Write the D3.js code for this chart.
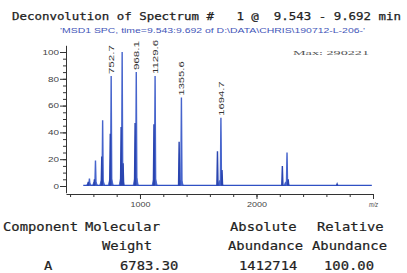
<!DOCTYPE html>
<html lang="en">
<head>
<meta charset="UTF-8">
<title>Deconvolution</title>
<script src="https://d3js.org/d3.v7.min.js"></script>
<style>
  body { margin: 0; background: #fff; }
  svg { display: block; }
</style>
</head>
<body>
<svg width="407" height="273"></svg>
<script>
// main charge-state peaks (m/z, relative %)
const mainMz = [566, 618, 679.5, 752.7, 847, 968.1, 1129.6, 1355.6, 1694.7, 2262];
const mainHt = [5.5, 19, 49, 82, 100, 85, 82, 66, 51, 25];
// labels shown above some peaks
const labelMz = [752.7, 968.1, 1129.6, 1355.6, 1694.7];
const labelHt = [82, 85, 82, 66, 51];
const labelTxt = ["752.7", "968.1", "1129.6", "1355.6", "1694.7"];
// side peaks and shoulders
const sideMz = [556, 609, 672, 745, 838, 958, 1120, 1336, 1665, 2222, 855, 1704, 2272, 2692];
const sideHt = [3, 5, 22, 39, 44, 47, 46, 33, 26, 15, 17, 12, 5, 1.5];
// low humps at the foot of each cluster
const humpMz = [562, 614, 676, 749, 843, 964, 1126, 1350, 1690, 2258];
const humpHt = [2, 3, 4, 5, 6, 6, 5, 4, 4, 3];
// baseline extent
const baseMz = [513, 2990];
const baseLevel = 0.4;

const yTicks = [0, 20, 40, 60, 80, 100];
const xTicks = [1000, 2000, 3000];
const xTickLabels = ["1000", "2000", "m/z"];

const title = "Deconvolution of Spectrum #   1 @  9.543 - 9.692 min";
const subtitle = "'MSD1 SPC, time=9.543:9.692 of D:\\DATA\\CHRIS\\190712-L-206-'";
const maxTxt = "Max: 290221";

const head1 = ["Component", "Molecular", "Absolute", "Relative"];
const head2 = ["", "Weight", "Abundance", "Abundance"];
const row1 = ["A", "6783.30", "1412714", "100.00"];

const svg = d3.select("svg");
const blue = "#2f50c4";

const x = d3.scaleLinear().domain([365, 3000]).range([66, 373]);
const y = d3.scaleLinear().domain([-5, 105]).range([192.7, 45.3]);

// titles
svg.append("text").attr("x", 12).attr("y", 20)
  .attr("font-family", "DejaVu Sans Mono").attr("font-size", 10.5)
  .attr("fill", "#222").attr("stroke", "#222").attr("stroke-width", 0.25)
  .attr("xml:space", "preserve")
  .attr("textLength", 389).attr("lengthAdjust", "spacingAndGlyphs")
  .text(title);
svg.append("text").attr("x", 60).attr("y", 33)
  .attr("font-family", "Liberation Sans").attr("font-size", 6.5)
  .attr("fill", "#3f55b8")
  .attr("textLength", 305).attr("lengthAdjust", "spacingAndGlyphs")
  .text(subtitle);
svg.append("text").attr("x", 293).attr("y", 55)
  .attr("font-family", "Liberation Serif").attr("font-size", 7)
  .attr("fill", "#555")
  .attr("textLength", 76).attr("lengthAdjust", "spacingAndGlyphs")
  .text(maxTxt);

// axes
const yAxisMinor = d3.axisLeft(y).tickValues(d3.range(0, 101, 5)).tickSize(3).tickSizeOuter(0).tickFormat("");
const yAxis = d3.axisLeft(y).tickValues(yTicks).tickSize(6).tickSizeOuter(0).tickPadding(1);
svg.append("g").attr("transform", "translate(66,0)").call(yAxisMinor);
const gy = svg.append("g").attr("transform", "translate(66,0)").call(yAxis);
gy.select(".domain").remove();
gy.selectAll("text").attr("font-family", "Liberation Sans").attr("font-size", 7).attr("fill", "#444")
  .attr("textLength", d => String(d).length * 5.5).attr("lengthAdjust", "spacingAndGlyphs");

const xAxisMinor = d3.axisBottom(x).tickValues(d3.range(400, 3001, 200)).tickSize(3).tickSizeOuter(0).tickFormat("");
const xAxis = d3.axisBottom(x).tickValues(xTicks).tickSize(5).tickSizeOuter(0).tickPadding(3)
  .tickFormat((d, i) => xTickLabels[i]);
svg.append("g").attr("transform", "translate(0,194)").call(xAxisMinor);
const gx = svg.append("g").attr("transform", "translate(0,194)").call(xAxis);
gx.select(".domain").remove();
gx.selectAll("text").attr("font-family", "Liberation Sans").attr("font-size", 6.5).attr("fill", "#444")
  .attr("textLength", (d, i) => xTickLabels[i].length === 3 ? 9 : 20).attr("lengthAdjust", "spacingAndGlyphs")
  .attr("font-style", (d, i) => xTickLabels[i] === "m/z" ? "italic" : null);
svg.selectAll(".tick line, .domain").attr("stroke", "#333");

// spectrum
const line = d3.line().x(d => x(d[0])).y(d => y(d[1]));
svg.append("path")
  .attr("d", line(baseMz.map(m => [m, baseLevel])))
  .attr("stroke", blue).attr("stroke-width", 1.3).attr("fill", "none");

humpMz.forEach((m, i) => {
  const h = humpHt[i];
  svg.append("path")
    .attr("d", line([[m - 22, baseLevel], [m - 9, h], [m + 9, h], [m + 22, baseLevel]]))
    .attr("fill", blue).attr("stroke", blue).attr("stroke-width", 0.8).attr("opacity", 0.9);
});

function drawPeak(m, h, col) {
  svg.append("path")
    .attr("d", line([[m - 5, baseLevel], [m, h], [m + 5, baseLevel]]))
    .attr("fill", col).attr("stroke", col).attr("stroke-width", 1.4)
    .attr("stroke-linejoin", "miter");
}
mainMz.forEach((m, i) => drawPeak(m, mainHt[i], "#4664cc"));
sideMz.forEach((m, i) => drawPeak(m, sideHt[i], "#2a45b0"));

// peak labels
labelMz.forEach((m, i) => {
  const tx = x(m) + 3, ty = y(labelHt[i]) - 2;
  svg.append("text")
    .attr("transform", `translate(${tx},${ty}) rotate(-90)`)
    .attr("font-family", "Liberation Sans").attr("font-size", 7.5).attr("fill", "#333")
    .attr("textLength", labelTxt[i].length * 5.2 + 3).attr("lengthAdjust", "spacingAndGlyphs")
    .text(labelTxt[i]);
});

// result table
const colX1 = [3, 85, 230, 317];
const colX2 = [0, 102, 228, 312];
const colX3 = [44, 120, 239, 324];
const cw = 8.33;
function tableRow(strs, xs, yy) {
  strs.forEach((s, i) => {
    if (!s) return;
    svg.append("text").attr("x", xs[i]).attr("y", yy)
      .attr("font-family", "DejaVu Sans Mono").attr("font-size", 12.3)
      .attr("fill", "#222").attr("stroke", "#222").attr("stroke-width", 0.2)
      .attr("textLength", s.length * cw).attr("lengthAdjust", "spacingAndGlyphs")
      .text(s);
  });
}
tableRow(head1, colX1, 231);
tableRow(head2, colX2, 250);
tableRow(row1, colX3, 270);
</script>
</body>
</html>
